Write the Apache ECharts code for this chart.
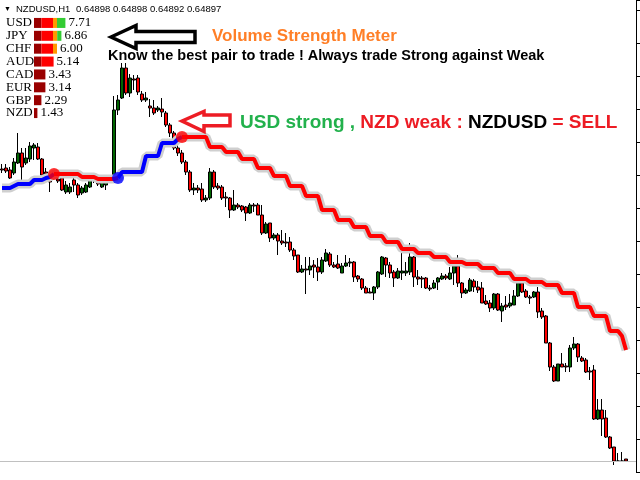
<!DOCTYPE html>
<html><head><meta charset="utf-8">
<script src="https://cdn.jsdelivr.net/npm/echarts/dist/echarts.min.js"></script>
<style>html,body{margin:0;padding:0;background:#fff}#c{width:640px;height:480px}</style>
</head><body><div id="c"></div>
<script>
// NZDUSD H1 prices in points (1 point = 0.00001)
const opens = [
65181,65182,65180,65177,65187,65197,65187,65191,65202,65203,
65191,65178,65170,65175,65171,65172,65158,65158,65170,65165,
65157,65158,65163,65171,65168,65163,65165,65171,65172,65240,
65252,65282,65257,65271,65272,65256,65250,65244,65242,65240,
65241,65237,65225,65217,65202,65197,65188,65178,65160,65162,
65161,65150,65152,65178,65164,65163,65153,65152,65140,65145,
65144,65143,65137,65145,65145,65135,65117,65127,65112,65115,
65109,65108,65108,65100,65095,65078,65081,65080,65085,65083,
65078,65089,65096,65085,65086,65077,65084,65087,65088,65074,
65071,65062,65058,65057,65063,65076,65092,65085,65078,65072,
65077,65077,65078,65093,65073,65072,65072,65062,65062,65068,
65071,65074,65071,65077,65084,65067,65057,65059,65069,65063,
65062,65049,65047,65042,65056,65039,65045,65044,65045,65054,
65067,65059,65053,65053,65058,65039,65034,65007,64983,64969,
64986,64984,64983,65002,65006,64992,64990,64979,64980,64931,
64940,64932,64913,64903,64889,64889,64891];
const closes = [
65180,65179,65172,65188,65197,65183,65192,65204,65205,65191,
65175,65176,65168,65172,65169,65160,65165,65163,65165,65155,
65162,65165,65172,65170,65166,65168,65172,65173,65240,65250,
65282,65257,65272,65270,65258,65250,65252,65242,65237,65242,
65238,65225,65217,65202,65197,65188,65178,65160,65162,65160,
65150,65152,65178,65163,65162,65152,65152,65140,65145,65143,
65140,65137,65145,65144,65135,65117,65126,65112,65115,65109,
65107,65107,65100,65094,65078,65081,65080,65084,65083,65078,
65090,65097,65085,65083,65082,65084,65087,65088,65073,65071,
65062,65057,65057,65063,65078,65093,65085,65077,65072,65079,
65079,65079,65093,65073,65071,65071,65062,65061,65067,65072,
65074,65072,65077,65084,65067,65057,65060,65070,65063,65060,
65047,65046,65042,65056,65040,65044,65043,65047,65054,65067,
65058,65053,65052,65058,65038,65033,65007,64983,64969,64986,
64983,64983,65002,65006,64993,64989,64978,64978,64931,64940,
64931,64913,64902,64889,64889,64889,64889];
const lows = [
65177,65177,65171,65175,65186,65167,65185,65188,65190,65190,
65175,65172,65158,65170,65167,65159,65156,65156,65158,65152,
65155,65157,65162,65167,65164,65162,65160,65169,65170,65235,
65251,65255,65253,65260,65255,65248,65248,65233,65235,65238,
65233,65223,65213,65200,65194,65186,65175,65158,65155,65157,
65148,65148,65150,65161,65160,65150,65143,65132,65139,65141,
65138,65129,65136,65138,65135,65115,65116,65108,65110,65095,
65105,65103,65098,65090,65077,65077,65056,65075,65072,65069,
65076,65088,65083,65082,65081,65077,65083,65083,65068,65068,
65060,65057,65057,65050,65061,65075,65073,65072,65063,65071,
65070,65074,65075,65063,65065,65062,65061,65059,65061,65060,
65070,65070,65070,65065,65063,65052,65056,65058,65058,65057,
65047,65045,65038,65040,65039,65028,65040,65042,65045,65053,
65057,65052,65046,65052,65032,65031,65007,64979,64968,64969,
64983,64978,64978,65000,64988,64988,64977,64970,64930,64930,
64914,64912,64901,64885,64888,64888,64889];
const highs = [
65186,65186,65183,65192,65217,65202,65202,65208,65207,65207,
65192,65182,65173,65178,65174,65173,65169,65167,65173,65167,
65164,65167,65174,65174,65171,65170,65174,65175,65254,65255,
65287,65287,65276,65275,65275,65259,65258,65251,65250,65244,
65252,65239,65227,65219,65207,65200,65190,65180,65167,65165,
65167,65155,65182,65180,65167,65165,65158,65153,65160,65147,
65145,65144,65147,65147,65147,65145,65128,65127,65117,65117,
65120,65117,65113,65102,65095,65085,65093,65093,65090,65092,
65093,65101,65098,65088,65095,65087,65095,65092,65089,65075,
65072,65064,65062,65064,65079,65094,65093,65088,65080,65082,
65097,65088,65107,65094,65080,65074,65073,65065,65070,65073,
65077,65076,65083,65090,65095,65068,65062,65072,65071,65069,
65068,65055,65050,65057,65057,65047,65054,65056,65060,65067,
65067,65061,65055,65059,65063,65042,65035,65008,64985,64986,
64997,64987,65005,65013,65007,64994,64992,64983,64985,64951,
64951,64940,64914,64903,64897,64898,64891];
// trailing stop level per candle
const stopLine = [
65162,65162,65162,65164,65166,65166,65166,65166,65170,65170,
65170,65172,65173,65176,65176,65176,65176,65176,65176,65176,
65173,65173,65173,65173,65171,65171,65171,65171,65171,65172,
65178,65178,65178,65178,65178,65178,65194,65194,65194,65194,
65207,65207,65207,65207,65211,65213,65213,65213,65213,65213,
65213,65213,65203,65203,65203,65203,65198,65198,65198,65198,
65191,65191,65191,65191,65182,65182,65182,65182,65174,65174,
65174,65174,65164,65164,65164,65164,65154,65154,65154,65154,
65140,65140,65140,65140,65130,65130,65130,65130,65123,65123,
65123,65123,65114,65114,65114,65114,65108,65108,65108,65108,
65101,65101,65101,65101,65097,65097,65097,65097,65093,65093,
65093,65093,65088,65088,65088,65088,65086,65086,65086,65086,
65082,65082,65082,65082,65077,65077,65077,65077,65071,65071,
65071,65071,65068,65068,65068,65068,65065,65065,65065,65065,
65057,65057,65057,65057,65043,65043,65043,65043,65034,65034,
65034,65034,65019,65019,65019,65014,65000];
const signalIdx = [13, 29, 45];
const signalType = ['sell', 'buy', 'sell'];
// strength meter
const currencies = ['USD','JPY','CHF','AUD','CAD','EUR','GBP','NZD'];
const strength = [7.71, 6.86, 6.00, 5.14, 3.43, 3.14, 2.29, 1.43];
const segDarkRed = [1.85,1.85,1.85,1.85,2.85,2.85,1.85,0.85];
const segRed     = [2.9,2.9,2.9,3.05,0,0,0,0];
const segOrange  = [1.0,1.05,1.0,0,0,0,0,0];
const segGreen   = [2.1,1.05,0,0,0,0,0,0];

const N = opens.length;
const categories = [];
for (let i = 0; i < N + 2; i++) categories.push(String(i));

function trendAt(i) {
  let t = signalType[0] === 'sell' ? 'buy' : 'sell';
  for (let k = 0; k < signalIdx.length; k++) if (signalIdx[k] <= i) t = signalType[k];
  return t;
}
const blueData = stopLine.map((v, i) => (trendAt(i) === 'buy' || (i > 0 && trendAt(i - 1) === 'buy')) ? v : null);
const redData = stopLine.map((v, i) => (trendAt(i) === 'sell' || (i > 0 && trendAt(i - 1) === 'sell')) ? v : null);
const signalPts = signalIdx.map((idx, k) => ({
  value: [idx, stopLine[idx]],
  itemStyle: { color: signalType[k] === 'buy' ? '#0000ff' : '#ff0000' }
}));

const serif = 'Liberation Serif';
const sans = 'Liberation Sans';
const chart = echarts.init(document.getElementById('c'));
chart.setOption({
  animation: false,
  backgroundColor: '#ffffff',
  grid: [
    { left: 0, right: 4, top: 0, bottom: 8 },
    { left: 34, top: 16.5, width: 160, height: 103 }
  ],
  xAxis: [
    { type: 'category', data: categories, gridIndex: 0, show: false },
    { type: 'value', gridIndex: 1, min: 0, max: 40, show: false }
  ],
  yAxis: [
    { type: 'value', gridIndex: 0, position: 'right', min: 64878, max: 65350, interval: 33,
      axisLine: { show: true, lineStyle: { color: '#000', width: 1 } },
      axisTick: { show: true, length: 4, lineStyle: { color: '#000' } },
      axisLabel: { show: false }, splitLine: { show: false } },
    { type: 'category', gridIndex: 1, data: currencies, inverse: true,
      axisLine: { show: false }, axisTick: { show: false },
      axisLabel: { interval: 0, align: 'left', margin: 28, fontFamily: serif, fontSize: 13, color: '#000' } }
  ],
  series: [
    { type: 'candlestick', xAxisIndex: 0, yAxisIndex: 0, barWidth: 3, z: 2,
      data: opens.map((o, i) => [o, closes[i], lows[i], highs[i]]),
      itemStyle: { color: '#006400', color0: '#ff0000', borderColor: '#000', borderColor0: '#000', borderWidth: 1 },
      markLine: { silent: true, symbol: 'none', label: { show: false },
        lineStyle: { color: '#c0c0c0', width: 1, type: 'solid' },
        data: [{ yAxis: closes[N - 1] }] } },
    { type: 'line', xAxisIndex: 0, yAxisIndex: 0, data: stopLine, symbol: 'none', z: 3, silent: true,
      lineStyle: { color: '#cfcfcf', width: 9 } },
    { type: 'line', xAxisIndex: 0, yAxisIndex: 0, data: blueData, symbol: 'none', z: 4, silent: true,
      lineStyle: { color: '#0000ff', width: 4 } },
    { type: 'line', xAxisIndex: 0, yAxisIndex: 0, data: redData, symbol: 'none', z: 4, silent: true,
      lineStyle: { color: '#ff0000', width: 4 } },
    { type: 'scatter', xAxisIndex: 0, yAxisIndex: 0, data: signalPts, symbolSize: 12, z: 5, silent: true },
    { type: 'bar', xAxisIndex: 1, yAxisIndex: 1, stack: 'm', barWidth: 10, data: segDarkRed, itemStyle: { color: '#990000' } },
    { type: 'bar', xAxisIndex: 1, yAxisIndex: 1, stack: 'm', barWidth: 10, data: segRed, itemStyle: { color: '#ff0000' } },
    { type: 'bar', xAxisIndex: 1, yAxisIndex: 1, stack: 'm', barWidth: 10, data: segOrange, itemStyle: { color: '#ff9900' } },
    { type: 'bar', xAxisIndex: 1, yAxisIndex: 1, stack: 'm', barWidth: 10, data: segGreen, itemStyle: { color: '#33cc33' } },
    { type: 'bar', xAxisIndex: 1, yAxisIndex: 1, stack: 'm', barWidth: 10, data: strength.map(() => 0),
      itemStyle: { color: 'transparent' },
      label: { show: true, position: 'right', distance: 3, fontFamily: serif, fontSize: 13, color: '#000',
        formatter: p => strength[p.dataIndex].toFixed(2) } }
  ],
  graphic: [
    { type: 'text', x: 4, y: 9, z: 10, style: { text: '▼', fontSize: 7, fill: '#000', verticalAlign: 'middle' } },
    { type: 'text', x: 16, y: 9, z: 10, style: { text: 'NZDUSD,H1', fontSize: 9.5, fontFamily: sans, fill: '#000', verticalAlign: 'middle' } },
    { type: 'text', x: 76, y: 9, z: 10, style: { text: '0.64898 0.64898 0.64892 0.64897', fontSize: 9.5, fontFamily: sans, fill: '#000', verticalAlign: 'middle' } },
    { type: 'text', x: 212, y: 36, z: 10, style: { text: 'Volume Strength Meter', fontSize: 17, fontWeight: 'bold', fontFamily: sans, fill: '#ff7f27', verticalAlign: 'middle' } },
    { type: 'text', x: 108, y: 56, z: 10, style: { text: 'Know the best pair to trade ! Always trade Strong against Weak', fontSize: 14.5, fontWeight: 'bold', fontFamily: sans, fill: '#000', verticalAlign: 'middle' } },
    { type: 'text', x: 240, y: 123, z: 10, style: {
        text: '{g|USD strong ,} {r|NZD weak :} {b|NZDUSD} {r|= SELL}',
        fontSize: 19, fontWeight: 'bold', fontFamily: sans, fill: '#000', verticalAlign: 'middle',
        rich: {
          g: { fill: '#22b14c', color: '#22b14c', fontSize: 19, fontWeight: 'bold', fontFamily: sans },
          r: { fill: '#ed1c24', color: '#ed1c24', fontSize: 19, fontWeight: 'bold', fontFamily: sans },
          b: { fill: '#000000', color: '#000000', fontSize: 19, fontWeight: 'bold', fontFamily: sans }
        } } },
    { type: 'polygon', z: 10, shape: { points: [[111,37],[136,25.5],[136,31.5],[195,31.5],[195,42.5],[136,42.5],[136,48.5]] },
      style: { fill: null, stroke: '#000', lineWidth: 3.5 } },
    { type: 'polygon', z: 10, shape: { points: [[182,121],[204,111.5],[204,115],[230,115],[230,125.7],[204,125.7],[204,131.5]] },
      style: { fill: null, stroke: '#ed1c24', lineWidth: 3.5 } }
  ]
});
</script>
</body></html>
